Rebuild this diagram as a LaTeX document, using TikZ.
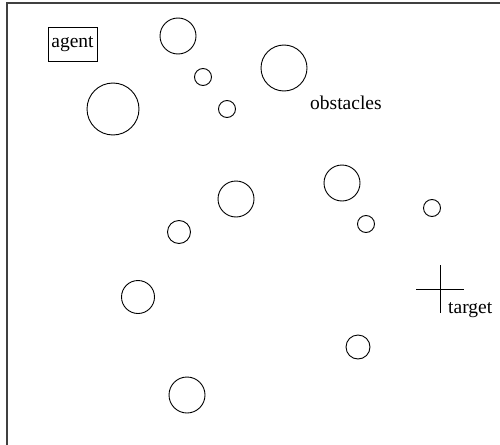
\documentclass[tikz,border=0pt]{standalone}
\usepackage{fontspec}
\setmainfont{Liberation Serif}
\begin{document}
\begin{tikzpicture}[x=1pt,y=-1pt,
  font=\fontsize{19.5}{23}\selectfont,
  obst/.style={circle,draw=black,line width=0.9pt,inner sep=0pt,minimum size=#1},
  label text/.style={anchor=base west,inner sep=0pt},
  frameline/.style={draw=black!75,line width=1.3pt},
  crossline/.style={draw=black,line width=1pt}]
\useasboundingbox (0,0) rectangle (500,444);

% frame of the field
\coordinate (fbl) at (7,446);
\coordinate (ftl) at (7,3);
\coordinate (ftr) at (502,3);
\draw[frameline] (fbl) -- (ftl) -- (ftr);

% agent
\node[draw=black,line width=0.9pt,minimum width=49pt,minimum height=34pt,inner sep=0pt] (agent) at (72.5,44) {agent};

% obstacles
\node[obst=36pt] (o1) at (178,36) {};
\node[obst=17pt] (o2) at (203,77) {};
\node[obst=17pt] (o3) at (227,109) {};
\node[obst=52pt] (o4) at (113,109) {};
\node[obst=46pt] (o5) at (284,68) {};
\node[obst=36pt] (o6) at (236,199) {};
\node[obst=36pt] (o7) at (342,183) {};
\node[obst=17pt] (o8) at (366,224) {};
\node[obst=17pt] (o9) at (432,208) {};
\node[obst=23pt] (o10) at (179,232) {};
\node[obst=33pt] (o11) at (138,297) {};
\node[obst=24pt] (o12) at (358,347) {};
\node[obst=36pt] (o13) at (187,395) {};
\node[label text] (obslabel) at (310,109) {obstacles};

% target marker
\coordinate (tl) at (416,289);
\coordinate (tr) at (464,289);
\coordinate (tt) at (440,265);
\coordinate (tb) at (440,313);
\draw[crossline] (tl) -- (tr);
\draw[crossline] (tt) -- (tb);
\node[label text] (tgtlabel) at (448,313) {target};
\end{tikzpicture}
\end{document}
